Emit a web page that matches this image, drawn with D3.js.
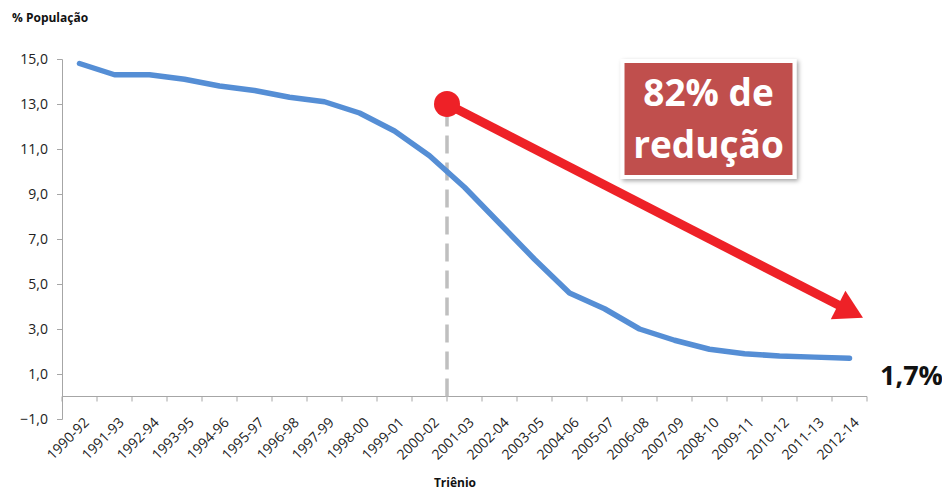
<!DOCTYPE html>
<html><head><meta charset="utf-8">
<script src="https://cdn.jsdelivr.net/npm/d3@7"></script>
<style>
html,body{margin:0;padding:0;background:#fff;}
text{font-family:"Open Sans",sans-serif;}
</style></head>
<body>
<svg id="chart" width="942" height="491"></svg>
<script>
const categories = ["1990-92","1991-93","1992-94","1993-95","1994-96","1995-97","1996-98","1997-99","1998-00","1999-01","2000-02","2001-03","2002-04","2003-05","2004-06","2005-07","2006-08","2007-09","2008-10","2009-11","2010-12","2011-13","2012-14"];
const values = [14.8,14.3,14.3,14.1,13.8,13.6,13.3,13.1,12.6,11.8,10.7,9.3,7.7,6.1,4.6,3.9,3.0,2.5,2.1,1.9,1.8,1.75,1.7];
const yTicks = [-1,1,3,5,7,9,11,13,15];
const markerCategory = "2001-03";
const arrowStartValue = 13.0;
const arrowEndValue = 3.5;
const boxLines = ["82% de","redução"];
const endLabel = "1,7%";
const yTitle = "% População";
const xTitle = "Triênio";

const svg = d3.select("#chart");
const x = d3.scaleBand().domain(categories).range([62, 867]).paddingInner(0).paddingOuter(0);
const y = d3.scaleLinear().domain([-1, 15]).range([419, 59]);
const bw = x.bandwidth();
const axisColor = "#A6A6A6";
const fmt = v => d3.format(".1f")(v).replace(".", ",");

// Y axis
const gy = svg.append("g").attr("transform", "translate(62,0)")
  .call(d3.axisLeft(y).tickValues(yTicks).tickSize(5).tickPadding(9).tickFormat(fmt));
gy.select(".domain").attr("stroke", axisColor);
gy.selectAll(".tick line").attr("stroke", axisColor);
gy.selectAll(".tick text").attr("font-size", 14).attr("fill", "#222").style("font-family", "Open Sans");

// X axis line at y=0
const y0 = y(0);
svg.append("line").attr("x1", x.range()[0]).attr("x2", x.range()[1]).attr("y1", y0).attr("y2", y0).attr("stroke", axisColor);
const boundaries = categories.map(c => x(c)).concat([x.range()[1]]);
svg.selectAll(".xtick").data(boundaries).enter().append("line")
  .attr("x1", d => d).attr("x2", d => d).attr("y1", y0).attr("y2", y0 + 5).attr("stroke", axisColor);
svg.selectAll(".xlab").data(categories).enter().append("text")
  .attr("transform", d => `translate(${x(d) + bw / 2 + 3},${y(-1) - 3}) rotate(-45)`)
  .attr("text-anchor", "end").attr("dy", "0.75em")
  .attr("font-size", 14).attr("fill", "#222").text(d => d);

// Dashed vertical line
const mx = x(markerCategory);
svg.append("line").attr("x1", mx).attr("x2", mx).attr("y1", y0).attr("y2", y(arrowStartValue))
  .attr("stroke", "#BFBFBF").attr("stroke-width", 3.5).attr("stroke-dasharray", "18,9");

// Data line
const line = d3.line().x((d, i) => x(categories[i]) + bw / 2).y(d => y(d));
svg.append("path").datum(values).attr("d", line).attr("fill", "none")
  .attr("stroke", "#558ED5").attr("stroke-width", 5.5).attr("stroke-linejoin", "round").attr("stroke-linecap", "round");

// Red arrow
const sx = mx, sy = y(arrowStartValue);
const tx = x.range()[1] - 4, ty = y(arrowEndValue);
const dx = tx - sx, dy = ty - sy, len = Math.hypot(dx, dy);
const ux = dx / len, uy = dy / len, px = -uy, py = ux;
const headL = 28, headW = 16;
const bx = tx - ux * headL, by = ty - uy * headL;
const red = "#EE2127";
svg.append("line").attr("x1", sx).attr("y1", sy).attr("x2", bx + ux * 2).attr("y2", by + uy * 2)
  .attr("stroke", red).attr("stroke-width", 9);
svg.append("path").attr("d", `M${tx},${ty}L${bx + px * headW},${by + py * headW}L${bx - px * headW},${by - py * headW}Z`).attr("fill", red);
svg.append("circle").attr("cx", sx).attr("cy", sy).attr("r", 13).attr("fill", red);

// Label box
const defs = svg.append("defs");
const f = defs.append("filter").attr("id", "sh").attr("x", "-20%").attr("y", "-20%").attr("width", "140%").attr("height", "140%");
f.append("feDropShadow").attr("dx", 2).attr("dy", 2).attr("stdDeviation", 2).attr("flood-color", "#000").attr("flood-opacity", 0.35);
const bcx = x("2008-10") + bw / 2 - 1;
const bTop = y(15) + 2;
svg.append("rect").attr("x", bcx - 86).attr("y", bTop).attr("width", 172).attr("height", 116)
  .attr("fill", "#C0504D").attr("stroke", "#fff").attr("stroke-width", 4).attr("filter", "url(#sh)");
svg.selectAll(".boxt").data(boxLines).enter().append("text")
  .attr("x", bcx).attr("y", (d, i) => bTop + 45 + i * 52).attr("text-anchor", "middle")
  .attr("font-size", 37).attr("font-weight", "bold").attr("fill", "#fff").text(d => d);

// End label
svg.append("text").attr("x", x.range()[1] + 13).attr("y", y(values[values.length - 1]) + 27)
  .attr("font-size", 27).attr("font-weight", "bold").attr("fill", "#111").text(endLabel);

// Titles
svg.append("text").attr("x", 12).attr("y", 22).attr("font-size", 12).attr("font-weight", "bold").attr("fill", "#111").text(yTitle);
svg.append("text").attr("x", 455).attr("y", 487).attr("text-anchor", "middle").attr("font-size", 12).attr("font-weight", "bold").attr("fill", "#111").text(xTitle);
</script>
</body></html>
